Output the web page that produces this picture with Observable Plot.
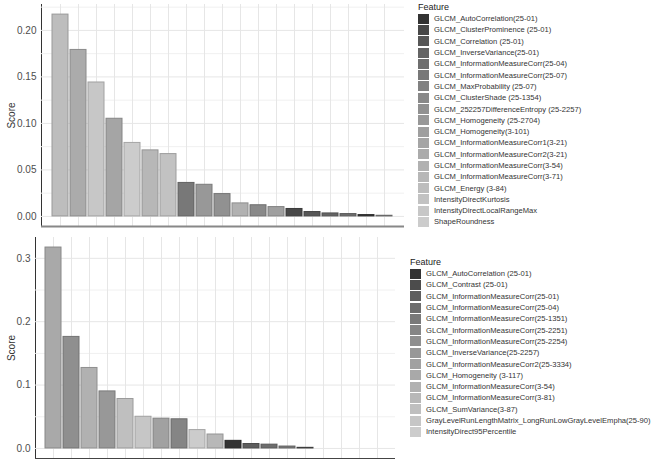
<!DOCTYPE html>
<html>
<head>
<meta charset="utf-8">
<script src="https://cdn.jsdelivr.net/npm/d3@7"></script>
<script src="https://cdn.jsdelivr.net/npm/@observablehq/plot@0.6"></script>
<style>
  body { margin: 0; background: #fff; font-family: "Liberation Sans", Arial, sans-serif; }
  #wrap { position: relative; width: 660px; height: 466px; overflow: hidden; }
  .panel { position: absolute; }
  .legend { position: absolute; color: #222; }
  .legend .title { font-size: 9px; height: 12px; line-height: 12px; }
  .legend .row { display: flex; align-items: center; height: 11.3px; font-size: 7.6px; color: #333; }
  .legend .key { width: 11px; height: 10px; margin-right: 5px; flex: none; }
  g[aria-label="y-axis tick label"] text { fill: #4d4d4d; }
</style>
</head>
<body>
<div id="wrap"></div>
<script>
// panel 1: features in legend order, then bars by rank
const topFeatures = [
  "GLCM_AutoCorrelation(25-01)",
  "GLCM_ClusterProminence (25-01)",
  "GLCM_Correlation (25-01)",
  "GLCM_InverseVariance(25-01)",
  "GLCM_InformationMeasureCorr(25-04)",
  "GLCM_InformationMeasureCorr(25-07)",
  "GLCM_MaxProbability (25-07)",
  "GLCM_ClusterShade (25-1354)",
  "GLCM_252257DifferenceEntropy (25-2257)",
  "GLCM_Homogeneity (25-2704)",
  "GLCM_Homogeneity(3-101)",
  "GLCM_InformationMeasureCorr1(3-21)",
  "GLCM_InformationMeasureCorr2(3-21)",
  "GLCM_InformationMeasureCorr(3-54)",
  "GLCM_InformationMeasureCorr(3-71)",
  "GLCM_Energy (3-84)",
  "IntensityDirectKurtosis",
  "IntensityDirectLocalRangeMax",
  "ShapeRoundness"
]
const topBarFeature = [15, 12, 17, 11, 18, 14, 16, 5, 9, 8, 13, 7, 10, 1, 2, 3, 4, 0, 6]
const topBarScore = [0.217, 0.179, 0.144, 0.105, 0.079, 0.071, 0.067, 0.036, 0.034, 0.024,
  0.014, 0.012, 0.010, 0.008, 0.0047, 0.0032, 0.0025, 0.0014, 0.0007]
const topTicks = [0, 0.05, 0.10, 0.15, 0.20]

// panel 2
const bottomFeatures = [
  "GLCM_AutoCorrelation (25-01)",
  "GLCM_Contrast (25-01)",
  "GLCM_InformationMeasureCorr(25-01)",
  "GLCM_InformationMeasureCorr(25-04)",
  "GLCM_InformationMeasureCorr(25-1351)",
  "GLCM_InformationMeasureCorr(25-2251)",
  "GLCM_InformationMeasureCorr(25-2254)",
  "GLCM_InverseVariance(25-2257)",
  "GLCM_InformationMeasureCorr2(25-3334)",
  "GLCM_Homogeneity (3-117)",
  "GLCM_InformationMeasureCorr(3-54)",
  "GLCM_InformationMeasureCorr(3-81)",
  "GLCM_SumVariance(3-87)",
  "GrayLevelRunLengthMatrix_LongRunLowGrayLevelEmpha(25-90)",
  "IntensityDirect95Percentile"
]
const bottomBarFeature = [9, 6, 10, 7, 12, 13, 8, 5, 14, 11, 0, 2, 3, 4, 1]
const bottomBarScore = [0.317, 0.176, 0.127, 0.090, 0.078, 0.050, 0.047, 0.046, 0.029, 0.022,
  0.012, 0.007, 0.006, 0.003, 0.001]
const bottomTicks = [0, 0.1, 0.2, 0.3]
const slotCount = 19

// grey ramp like ggplot's scale_fill_grey (start .2, end .8, gamma 2.2)
function greys(n) {
  const a = Math.pow(0.2, 2.2), b = Math.pow(0.8, 2.2)
  return d3.range(n).map(i => {
    const v = Math.pow(a + (b - a) * i / (n - 1), 1 / 2.2) * 255
    return d3.rgb(v, v, v).formatHex()
  })
}

function panel(o) {
  const slots = d3.range(1, slotCount + 1)
  const colors = greys(o.features.length)
  const data = o.barScore.map((s, i) => ({slot: i + 1, score: s, feature: o.features[o.barFeature[i]]}))
  const max = d3.max(o.barScore)
  const lo = -max * 0.05, hi = max * 1.05
  const step = o.ticks[1] / 2
  const minor = d3.range(0, hi, step).filter(v => !o.ticks.includes(+v.toFixed(4)))
  const fillOf = f => colors[o.features.indexOf(f)]

  const chart = Plot.plot({
    width: o.width,
    height: o.height,
    marginLeft: o.marginLeft,
    marginRight: o.marginRight,
    marginTop: o.marginTop,
    marginBottom: o.marginBottom,
    style: {fontFamily: "Liberation Sans, Arial, sans-serif", fontSize: "10px", color: "#333", background: "#fff"},
    x: {domain: slots, paddingInner: 0.1, paddingOuter: 0.15, axis: null},
    y: {
      domain: [lo, hi],
      ticks: o.ticks,
      tickFormat: d3.format(o.fmt),
      tickSize: 0,
      tickPadding: 5,
      line: true,
      label: "Score",
      labelAnchor: "center",
      labelOffset: o.labelOffset,
      labelArrow: "none"
    },
    color: {domain: o.features, range: colors},
    marks: [
      Plot.gridY(minor, {stroke: "#f0f0f0", strokeOpacity: 1}),
      Plot.gridY(o.ticks, {stroke: "#e6e6e6", strokeOpacity: 1}),
      Plot.gridX(slots, {stroke: "#e6e6e6", strokeOpacity: 1}),
      Plot.barY(data, {
        x: "slot", y: "score", fill: "feature",
        stroke: d => d3.color(fillOf(d.feature)).darker(0.6).formatHex(),
        strokeWidth: 1
      }),
      Plot.ruleY([lo], {stroke: o.xLineColor, strokeWidth: o.xLineWidth})
    ]
  })
  const div = document.createElement("div")
  div.className = "panel"
  div.style.left = "0px"
  div.style.top = o.top + "px"
  div.appendChild(chart)
  return div
}

function legend(features, left, top) {
  const colors = greys(features.length)
  const div = d3.create("div").attr("class", "legend")
    .style("left", left + "px").style("top", top + "px")
  div.append("div").attr("class", "title").text("Feature")
  features.forEach((f, i) => {
    const row = div.append("div").attr("class", "row")
    row.append("div").attr("class", "key").style("background", colors[i])
    row.append("span").text(f)
  })
  return div.node()
}

const wrap = document.getElementById("wrap")
wrap.appendChild(panel({
  features: topFeatures, barFeature: topBarFeature, barScore: topBarScore,
  ticks: topTicks, fmt: ".2f", top: 0, width: 410, height: 232,
  marginLeft: 41, marginRight: 6, marginTop: 4, marginBottom: 6, labelOffset: 34,
  xLineColor: "#888", xLineWidth: 2
}))
wrap.appendChild(panel({
  features: bottomFeatures, barFeature: bottomBarFeature, barScore: bottomBarScore,
  ticks: bottomTicks, fmt: ".1f", top: 232, width: 400, height: 234,
  marginLeft: 35, marginRight: 5, marginTop: 5, marginBottom: 8, labelOffset: 28,
  xLineColor: "#444", xLineWidth: 1
}))
wrap.appendChild(legend(topFeatures, 418, 1))
wrap.appendChild(legend(bottomFeatures, 410, 256))
</script>
</body>
</html>
